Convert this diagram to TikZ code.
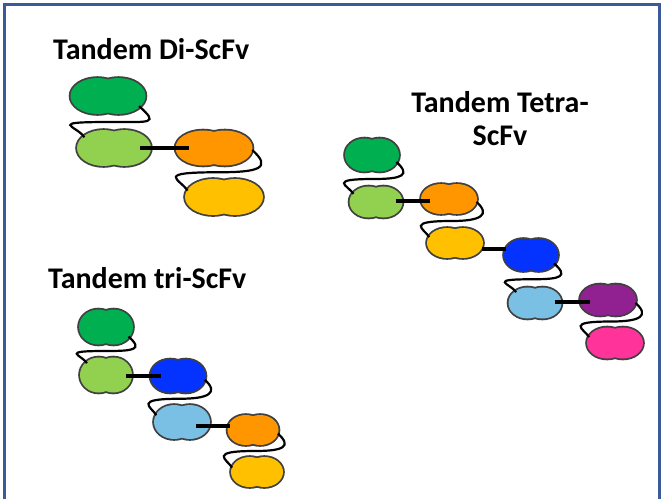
\documentclass[tikz,border=0pt]{standalone}
\usepackage{fontspec}
\setmainfont{Carlito}
\usetikzlibrary{shapes.geometric,calc}

\definecolor{dkgreen}{HTML}{00B050}
\definecolor{ltgreen}{HTML}{92D050}
\definecolor{orng}{HTML}{FF9600}
\definecolor{yllw}{HTML}{FFC000}
\definecolor{blu}{HTML}{0432FF}
\definecolor{ltblu}{HTML}{7ABFE4}
\definecolor{purp}{HTML}{912190}
\definecolor{pnk}{HTML}{FF3399}
\definecolor{rimgray}{HTML}{404040}
\definecolor{frameblue}{HTML}{3C5A9A}

\tikzstyle{scfvnode} = [ellipse, inner sep=0, outer sep=0]
\tikzstyle{rim} = [draw=rimgray, line width=3.6pt]
\tikzstyle{tether} = [draw=black, line width=2.2pt]
\tikzstyle{linker} = [draw=black, line width=4pt]
\tikzstyle{title} = [font=\fontsize{30}{33}\selectfont\bfseries, inner sep=0]
\tikzstyle{boxframe} = [draw=frameblue, line width=2.7pt]

% one ScFv domain: name, centre, colour, width, height
\newcommand{\scfv}[5]{%
  \node[scfvnode, minimum width=#4, minimum height=#5] (#1) at (#2) {};
  \path[rim] ([xshift=-0.14*#4]#1.center) ellipse ({0.36*#4} and {0.5*#5})
             ([xshift=0.14*#4]#1.center) ellipse ({0.36*#4} and {0.5*#5});
  \fill[#3] ([xshift=-0.14*#4]#1.center) ellipse ({0.36*#4} and {0.5*#5})
            ([xshift=0.14*#4]#1.center) ellipse ({0.36*#4} and {0.5*#5});
}
% flexible loop: from, start angle, to, end angle, scale
\newcommand{\tether}[5]{%
  \draw[tether] (#1.#2) .. controls +({20*#5},{18*#5}) and +({40*#5},0) .. ($(#1.south)!0.5!(#3.north)$)
    .. controls +({-65*#5},0) and +({-8*#5},{-12*#5}) .. (#3.#4);
}
% short rigid bond between two domains
\newcommand{\bridge}[4]{%
  \coordinate (#1#2) at ($(#1)!0.5!(#2)$);
  \draw[linker, shorten <=-#3, shorten >=-#4] (#1#2 -| #1.east) -- (#1#2 -| #2.west);
}

\begin{document}
\begin{tikzpicture}[x=1pt, y=-1pt]
  \useasboundingbox (0,0) rectangle (661,499);
  \draw[boxframe] (4.8,499) -- (4.8,4.7) -- (659.7,4.7) -- (659.7,499);

  % Tandem Di-ScFv
  \node[title, anchor=base west] (dititle) at (53,59) {Tandem Di-ScFv};
  \scfv{di1}{108,96}{dkgreen}{75pt}{36pt}
  \scfv{di2}{114,148}{ltgreen}{74pt}{36pt}
  \scfv{di3}{214,148}{orng}{77pt}{35pt}
  \scfv{di4}{224,197}{yllw}{78pt}{36pt}
  \tether{di1}{-18}{di2}{160}{1}
  \tether{di3}{-3}{di4}{170}{1}
  \bridge{di2}{di3}{11pt}{13pt}

  % Tandem tri-ScFv
  \node[title, anchor=base west] (trititle) at (48,288) {Tandem tri-ScFv};
  \scfv{tri1}{106,327}{dkgreen}{54pt}{35pt}
  \scfv{tri2}{106,375}{ltgreen}{52pt}{35pt}
  \scfv{tri3}{178,376}{blu}{55pt}{33pt}
  \scfv{tri4}{182,422}{ltblu}{56pt}{34pt}
  \scfv{tri5}{253,430}{orng}{51pt}{30pt}
  \scfv{tri6}{257,472}{yllw}{52pt}{30pt}
  \tether{tri1}{-23}{tri2}{148}{0.72}
  \tether{tri3}{-8}{tri4}{165}{0.72}
  \tether{tri5}{-8}{tri6}{170}{0.72}
  \bridge{tri2}{tri3}{6pt}{10pt}
  \bridge{tri4}{tri5}{14pt}{2pt}

  % Tandem Tetra-ScFv
  \node[title, align=center, anchor=north] (tettitle) at (500,91) {Tandem Tetra-\\ScFv};
  \scfv{tet1}{372,155}{dkgreen}{54pt}{33pt}
  \scfv{tet2}{376,202}{ltgreen}{53pt}{31pt}
  \scfv{tet3}{449,199}{orng}{56pt}{30pt}
  \scfv{tet4}{455,243}{yllw}{56pt}{30pt}
  \scfv{tet5}{531,255}{blu}{54pt}{32pt}
  \scfv{tet6}{535,303}{ltblu}{53pt}{31pt}
  \scfv{tet7}{608,300}{purp}{56pt}{31pt}
  \scfv{tet8}{615,343}{pnk}{56pt}{31pt}
  \tether{tet1}{-16}{tet2}{160}{0.72}
  \tether{tet3}{-6}{tet4}{167}{0.72}
  \tether{tet5}{-20}{tet6}{150}{0.72}
  \tether{tet7}{-6}{tet8}{167}{0.72}
  \bridge{tet2}{tet3}{7pt}{9pt}
  \bridge{tet4}{tet5}{1pt}{2pt}
  \bridge{tet6}{tet7}{7pt}{10pt}
\end{tikzpicture}
\end{document}
